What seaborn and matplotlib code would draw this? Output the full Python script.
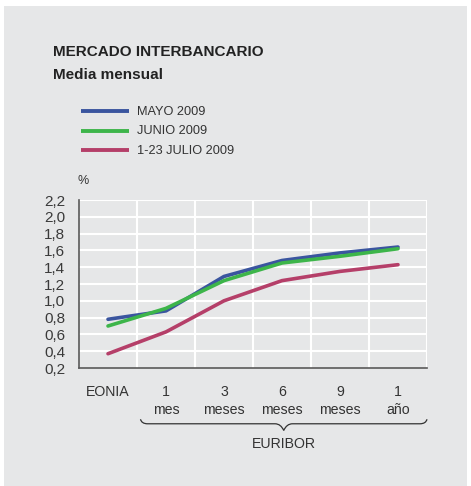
import numpy as np
import pandas as pd
import seaborn as sns
import matplotlib.pyplot as plt
from matplotlib.path import Path
from matplotlib.patches import PathPatch, Rectangle
import matplotlib.transforms as mtransforms

# Plazos del mercado interbancario
plazos = ["EONIA", "1\nmes", "3\nmeses", "6\nmeses", "9\nmeses", "1\naño"]
series = ["MAYO 2009", "JUNIO 2009", "1-23 JULIO 2009"]
mayo = [0.78, 0.88, 1.29, 1.48, 1.57, 1.64]
junio = [0.70, 0.91, 1.24, 1.45, 1.53, 1.62]
julio = [0.37, 0.63, 1.00, 1.24, 1.35, 1.43]
y_ticks = [0.2, 0.4, 0.6, 0.8, 1.0, 1.2, 1.4, 1.6, 1.8, 2.0, 2.2]
y_labels = ["0,2", "0,4", "0,6", "0,8", "1,0", "1,2", "1,4", "1,6", "1,8", "2,0", "2,2"]
colores = ["#3a559f", "#3db54a", "#b53f69"]

df = pd.DataFrame({
    "pos": list(range(len(plazos))) * 3,
    "valor": mayo + junio + julio,
    "serie": [s for s in series for _ in plazos],
})

sns.set_theme(style="white")
plt.rcParams["font.family"] = ["Liberation Sans", "DejaVu Sans"]

W, H = 471, 486
fig = plt.figure(figsize=(W / 100, H / 100), dpi=100)
fig.patch.set_facecolor("white")

def fx(px):
    return px / W

def fy(py):
    return 1 - py / H

# Panel gris de fondo
fig.patches.append(Rectangle((fx(4), fy(486)), fx(463), 480 / H,
                             transform=fig.transFigure, facecolor="#e6e7e8",
                             edgecolor="none", zorder=-10))

ax = fig.add_axes([fx(79), fy(368), fx(427 - 79), (368 - 200) / H])
ax.set_facecolor("#e6e7e8")

sns.lineplot(data=df, x="pos", y="valor", hue="serie", hue_order=series,
             palette=colores, linewidth=2.6, legend=False, ax=ax, zorder=3)

ax.set_xlim(-0.5, 5.5)
ax.set_ylim(0.2, 2.2)
ax.set_yticks(y_ticks)
ax.set_yticklabels(y_labels, fontsize=11, color="#3a3a3a")
ax.set_xticks(range(len(plazos)))
ax.set_xticklabels(plazos, fontsize=10.2, color="#333333", linespacing=1.42)
ax.tick_params(axis="x", length=0, pad=12)
ax.tick_params(axis="y", length=0, pad=10)
ax.set_xlabel("")
ax.set_ylabel("")

# Rejilla blanca
for v in y_ticks[1:]:
    ax.axhline(v, color="white", linewidth=1.5, zorder=1)
for k in np.arange(0.5, 6.0, 1.0):
    ax.axvline(k, color="white", linewidth=1.5, zorder=1)

for s in ["top", "right"]:
    ax.spines[s].set_visible(False)
for s in ["left", "bottom"]:
    ax.spines[s].set_color("#5a5a5a")
    ax.spines[s].set_linewidth(1.2)

# Títulos
fig.text(fx(53), fy(52), "MERCADO INTERBANCARIO", fontsize=11,
         fontweight="bold", color="#222222", va="center", ha="left")
fig.text(fx(53), fy(75), "Media mensual", fontsize=11,
         fontweight="bold", color="#222222", va="center", ha="left")

# Leyenda
for i, (s, c) in enumerate(zip(series, colores)):
    yy = 111 + i * 19.5
    fig.add_artist(plt.Line2D([fx(81), fx(129)], [fy(yy), fy(yy)],
                              color=c, linewidth=2.8, solid_capstyle="butt",
                              transform=fig.transFigure))
    fig.text(fx(137), fy(yy + 1), s, fontsize=9.2, color="#333333",
             va="center", ha="left")

fig.text(fx(83), fy(181), "%", fontsize=9, color="#333333",
         va="center", ha="center")

# Llave bajo los plazos EURIBOR
tr = mtransforms.blended_transform_factory(ax.transData, ax.transAxes)
x0, x1 = 0.56, 5.5
xm = (x0 + x1) / 2
yt, yb, ytip = -0.305, -0.332, -0.372
verts = [
    (x0, yt), (x0 + 0.02, yb), (x0 + 0.12, yb), (x0 + 0.3, yb),
    (xm - 0.15, yb), (xm - 0.05, yb), (xm, ytip),
    (xm + 0.05, yb), (xm + 0.15, yb), (x1 - 0.3, yb),
    (x1 - 0.12, yb), (x1 - 0.02, yb), (x1, yt),
]
codes = [Path.MOVETO, Path.CURVE3, Path.CURVE3, Path.LINETO,
         Path.LINETO, Path.CURVE3, Path.CURVE3,
         Path.CURVE3, Path.CURVE3, Path.LINETO,
         Path.LINETO, Path.CURVE3, Path.CURVE3]
ax.add_patch(PathPatch(Path(verts, codes), transform=tr, facecolor="none",
                       edgecolor="#333333", linewidth=0.9, clip_on=False))
ax.text(xm, -0.45, "EURIBOR", transform=tr, fontsize=10.2, color="#333333",
        ha="center", va="center")

fig.savefig("out.png", dpi=100)
